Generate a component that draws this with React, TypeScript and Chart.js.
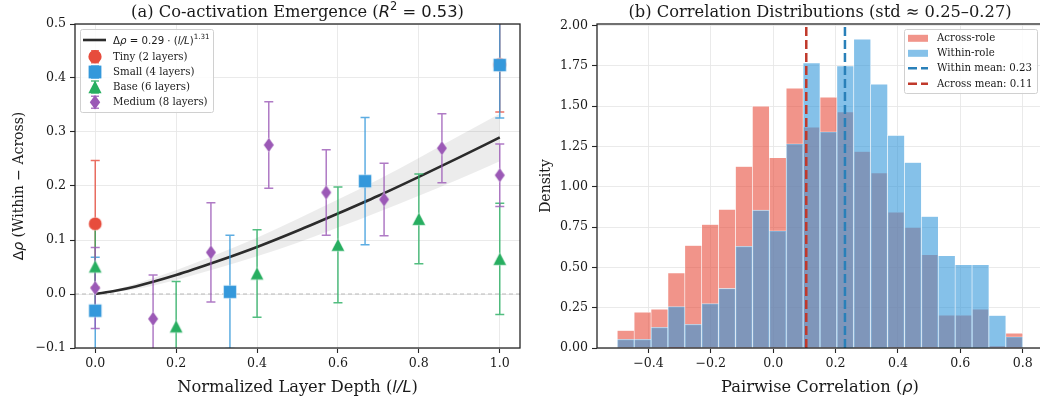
import React, { useEffect, useRef } from 'react';
import { Chart, registerables } from 'chart.js';
Chart.register(...registerables);

const SERIF = '"DejaVu Serif", serif';
const SANS = '"DejaVu Sans", sans-serif';
const INK = '#1a1a1a';

// ---------- Panel (a): co-activation emergence ----------
const tinyX = [0, 1];
const tinyY = [0.13, 0.425];
const tinyErr = [0.117, 0.088];
const smallX = [0, 0.333, 0.667, 1];
const smallY = [-0.031, 0.004, 0.209, 0.424];
const smallErr = [0.099, 0.105, 0.118, 0.098];
const baseX = [0, 0.2, 0.4, 0.6, 0.8, 1];
const baseY = [0.051, -0.06, 0.038, 0.091, 0.139, 0.065];
const baseErr = [0.085, 0.083, 0.081, 0.107, 0.083, 0.103];
const mediumX = [0, 0.143, 0.286, 0.429, 0.571, 0.714, 0.857, 1];
const mediumY = [0.011, -0.046, 0.077, 0.276, 0.188, 0.175, 0.27, 0.22];
const mediumErr = [0.075, 0.081, 0.092, 0.08, 0.079, 0.067, 0.064, 0.058];
const fitX = [0, 0.05, 0.1, 0.2, 0.3, 0.4, 0.5, 0.6, 0.7, 0.8, 0.9, 1.0];
const fitY = [0, 0.006, 0.014, 0.035, 0.06, 0.087, 0.117, 0.149, 0.182, 0.217, 0.253, 0.29];
const fitLo = [0, 0.004, 0.009, 0.026, 0.047, 0.07, 0.095, 0.123, 0.152, 0.182, 0.213, 0.246];
const fitHi = [0, 0.008, 0.019, 0.044, 0.073, 0.104, 0.139, 0.175, 0.212, 0.252, 0.293, 0.334];
const xTicksA = [0, 0.2, 0.4, 0.6, 0.8, 1.0];
const xTickLabelsA = ['0.0', '0.2', '0.4', '0.6', '0.8', '1.0'];
const yTicksA = [-0.1, 0, 0.1, 0.2, 0.3, 0.4, 0.5];
const yTickLabelsA = ['\u22120.1', '0.0', '0.1', '0.2', '0.3', '0.4', '0.5'];
const legendLabelsA = ['Tiny (2 layers)', 'Small (4 layers)', 'Base (6 layers)', 'Medium (8 layers)'];

// ---------- Panel (b): correlation distributions ----------
const binEdges = [
  -0.5, -0.4458, -0.3917, -0.3375, -0.2833, -0.2292, -0.175, -0.1208, -0.0667, -0.0125,
  0.0417, 0.0958, 0.15, 0.2042, 0.2583, 0.3125, 0.3667, 0.4208, 0.475, 0.5292,
  0.5833, 0.6375, 0.6917, 0.7458, 0.8,
];
const acrossDensity = [
  0.108, 0.222, 0.241, 0.465, 0.636, 0.766, 0.86, 1.126, 1.5, 1.18, 1.612, 1.369,
  1.556, 1.464, 1.219, 1.086, 0.843, 0.748, 0.578, 0.204, 0.204, 0.241, 0.012, 0.091,
];
const withinDensity = [
  0.054, 0.054, 0.129, 0.257, 0.147, 0.276, 0.37, 0.631, 0.855, 0.727, 1.267, 1.768,
  1.341, 1.749, 1.915, 1.637, 1.319, 1.151, 0.816, 0.573, 0.517, 0.517, 0.201, 0.07,
];
const withinMean = 0.23;
const acrossMean = 0.106;
const meanLabels = ['Within mean: 0.23', 'Across mean: 0.11'];
const xTicksB = [-0.4, -0.2, 0, 0.2, 0.4, 0.6, 0.8];
const xTickLabelsB = ['\u22120.4', '\u22120.2', '0.0', '0.2', '0.4', '0.6', '0.8'];
const yTicksB = [0, 0.25, 0.5, 0.75, 1.0, 1.25, 1.5, 1.75, 2.0];
const yTickLabelsB = ['0.00', '0.25', '0.50', '0.75', '1.00', '1.25', '1.50', '1.75', '2.00'];

const C_TINY = '#e74c3c';
const C_SMALL = '#3498db';
const C_BASE = '#27ae60';
const C_MED = '#9b59b6';

const TITLE_FONT = 16.3;
const XLABEL_FONT = 16.3;
const YLABEL_FONT = 14;
const TICK_FONT = 12.6;
const LEGEND_FONT = 10.2;

type Seg = { t: string; f: string; dy?: number };

function richWidth(ctx: CanvasRenderingContext2D, segs: Seg[]) {
  let w = 0;
  for (const s of segs) { ctx.font = s.f; w += ctx.measureText(s.t).width; }
  return w;
}

function drawRich(ctx: CanvasRenderingContext2D, segs: Seg[], x: number, y: number, align: string, rot = 0) {
  ctx.save();
  ctx.translate(x, y);
  if (rot) ctx.rotate(rot);
  const w = richWidth(ctx, segs);
  let cx = align === 'center' ? -w / 2 : 0;
  ctx.textAlign = 'left';
  ctx.textBaseline = 'alphabetic';
  ctx.fillStyle = INK;
  for (const s of segs) {
    ctx.font = s.f;
    ctx.fillText(s.t, cx, s.dy || 0);
    cx += ctx.measureText(s.t).width;
  }
  ctx.restore();
}

function markerPath(g: CanvasRenderingContext2D, kind: string, x: number, y: number) {
  g.beginPath();
  if (kind === 'circle') g.arc(x, y, 6.6, 0, Math.PI * 2);
  else if (kind === 'square') g.rect(x - 6.4, y - 6.4, 12.8, 12.8);
  else if (kind === 'triangle') { g.moveTo(x, y - 6.4); g.lineTo(x + 6.6, y + 6.2); g.lineTo(x - 6.6, y + 6.2); g.closePath(); }
  else { g.moveTo(x, y - 7.2); g.lineTo(x + 5.2, y); g.lineTo(x, y + 7.2); g.lineTo(x - 5.2, y); g.closePath(); }
}

function makeMarker(kind: string, color: string): HTMLCanvasElement {
  const c = document.createElement('canvas');
  c.width = 18; c.height = 18;
  const g = c.getContext('2d')!;
  markerPath(g, kind, 9, 9);
  g.fillStyle = color;
  g.fill();
  g.strokeStyle = 'rgba(255,255,255,0.45)';
  g.lineWidth = 0.8;
  g.stroke();
  return c;
}

function withAlpha(hex: string, a: number) {
  const n = parseInt(hex.slice(1), 16);
  return `rgba(${(n >> 16) & 255},${(n >> 8) & 255},${n & 255},${a})`;
}

function axisOpts(ticks: number[], labels: string[], min: number, max: number, size: number, isX: boolean) {
  return {
    type: 'linear',
    min,
    max,
    offset: false,
    afterBuildTicks: (s: any) => { s.ticks = ticks.map((v) => ({ value: v })); },
    afterFit: (s: any) => { if (isX) s.height = size; else s.width = size; },
    grid: { color: '#e8e8e8', lineWidth: 0.9, offset: false, drawTicks: true, tickLength: 5, tickColor: '#262626', tickWidth: 1.1 },
    border: { display: false },
    ticks: {
      font: { family: SERIF, size: TICK_FONT },
      color: INK,
      padding: isX ? 3 : 4,
      maxRotation: 0,
      autoSkip: false,
      callback: (_v: any, i: number) => labels[i],
    },
  };
}

function drawFrame(chart: any) {
  const { ctx, chartArea: a } = chart;
  ctx.save();
  ctx.strokeStyle = '#262626';
  ctx.lineWidth = 1.3;
  ctx.strokeRect(a.left, a.top, a.right - a.left, a.bottom - a.top);
  ctx.restore();
}

function legendFrame(ctx: CanvasRenderingContext2D, x: number, y: number, w: number, h: number) {
  ctx.save();
  ctx.beginPath();
  (ctx as any).roundRect ? (ctx as any).roundRect(x, y, w, h, 2) : ctx.rect(x, y, w, h);
  ctx.fillStyle = 'rgba(255,255,255,0.85)';
  ctx.fill();
  ctx.strokeStyle = '#d0d0d0';
  ctx.lineWidth = 1;
  ctx.stroke();
  ctx.restore();
}

// error bars of every series are drawn just before the first marker series,
// so that all markers sit above all error bars
const errorBarPlugin = {
  id: 'errorBars',
  beforeDatasetDraw(chart: any, args: any) {
    const first = chart.data.datasets[args.index];
    if (!first.drawErrors) return;
    const { ctx, chartArea: a } = chart;
    const ys = chart.scales.y;
    ctx.save();
    ctx.beginPath();
    ctx.rect(a.left, a.top, a.right - a.left, a.bottom - a.top);
    ctx.clip();
    ctx.lineWidth = 1.5;
    const idx = chart.data.datasets.map((_d: any, i: number) => i)
      .filter((i: number) => chart.data.datasets[i].errors)
      .sort((p: number, q: number) => chart.data.datasets[q].order - chart.data.datasets[p].order);
    idx.forEach((di: number) => {
      const ds = chart.data.datasets[di];
      const meta = chart.getDatasetMeta(di);
      ctx.strokeStyle = ds.errColor;
      meta.data.forEach((pt: any, i: number) => {
        const v = ds.data[i].y;
        const e = ds.errors[i];
        const x = pt.x;
        const y1 = ys.getPixelForValue(v - e);
        const y2 = ys.getPixelForValue(v + e);
        ctx.beginPath();
        ctx.moveTo(x, y1); ctx.lineTo(x, y2);
        ctx.moveTo(x - 4.5, y1); ctx.lineTo(x + 4.5, y1);
        ctx.moveTo(x - 4.5, y2); ctx.lineTo(x + 4.5, y2);
        ctx.stroke();
      });
    });
    ctx.restore();
  },
};

const pts = (xs: number[], ys: number[]) => xs.map((x, i) => ({ x, y: ys[i] }));

function configA(): any {
  const series = [
    { label: legendLabelsA[3], x: mediumX, y: mediumY, err: mediumErr, color: C_MED, kind: 'diamond', order: 1 },
    { label: legendLabelsA[2], x: baseX, y: baseY, err: baseErr, color: C_BASE, kind: 'triangle', order: 2 },
    { label: legendLabelsA[1], x: smallX, y: smallY, err: smallErr, color: C_SMALL, kind: 'square', order: 3 },
    { label: legendLabelsA[0], x: tinyX, y: tinyY, err: tinyErr, color: C_TINY, kind: 'circle', order: 4 },
  ];
  const datasets: any[] = series.map((s) => ({
    type: 'scatter',
    label: s.label,
    data: pts(s.x, s.y),
    errors: s.err,
    drawErrors: s.order === 4,
    errColor: withAlpha(s.color, 0.8),
    pointStyle: makeMarker(s.kind, s.color),
    pointRadius: 6,
    showLine: false,
    order: s.order,
  }));
  datasets.push(
    { type: 'line', label: 'fit', data: pts(fitX, fitY), borderColor: '#2b2b2b', borderWidth: 2.6, pointRadius: 0, cubicInterpolationMode: 'monotone', fill: false, order: 5 },
    { type: 'line', label: 'lo', data: pts(fitX, fitLo), borderWidth: 0, borderColor: 'rgba(0,0,0,0)', pointRadius: 0, cubicInterpolationMode: 'monotone', fill: false, order: 7 },
    { type: 'line', label: 'hi', data: pts(fitX, fitHi), borderWidth: 0, borderColor: 'rgba(0,0,0,0)', pointRadius: 0, cubicInterpolationMode: 'monotone', fill: '-1', backgroundColor: 'rgba(128,128,128,0.15)', order: 6 },
    { type: 'line', label: 'zero', data: [{ x: -0.05, y: 0 }, { x: 1.05, y: 0 }], borderColor: '#b8b8b8', borderWidth: 1, borderDash: [4, 3], pointRadius: 0, fill: false, order: 8 },
  );
  const deco = {
    id: 'decoA',
    afterDraw(chart: any) {
      const { ctx, chartArea: a } = chart;
      drawFrame(chart);
      const cx = (a.left + a.right) / 2;
      const cy = (a.top + a.bottom) / 2;
      drawRich(ctx, [
        { t: '(a) Co-activation Emergence (', f: `${TITLE_FONT}px ${SERIF}` },
        { t: 'R', f: `italic ${TITLE_FONT}px ${SANS}` },
        { t: '2', f: `${TITLE_FONT * 0.7}px ${SANS}`, dy: -7 },
        { t: ' = 0.53', f: `${TITLE_FONT}px ${SANS}` },
        { t: ')', f: `${TITLE_FONT}px ${SERIF}` },
      ], cx, 17, 'center');
      drawRich(ctx, [
        { t: 'Normalized Layer Depth (', f: `${XLABEL_FONT}px ${SERIF}` },
        { t: 'l/L', f: `italic ${XLABEL_FONT}px ${SANS}` },
        { t: ')', f: `${XLABEL_FONT}px ${SERIF}` },
      ], cx, 392, 'center');
      drawRich(ctx, [
        { t: '\u0394', f: `${YLABEL_FONT}px ${SANS}` },
        { t: '\u03c1', f: `italic ${YLABEL_FONT}px ${SANS}` },
        { t: ' (Within ', f: `${YLABEL_FONT}px ${SERIF}` },
        { t: '\u2212', f: `${YLABEL_FONT}px ${SANS}` },
        { t: ' Across)', f: `${YLABEL_FONT}px ${SERIF}` },
      ], 23, cy, 'center', -Math.PI / 2);
      // legend
      legendFrame(ctx, 80.5, 29.5, 133, 83);
      ctx.save();
      ctx.strokeStyle = '#2b2b2b';
      ctx.lineWidth = 2.6;
      ctx.beginPath(); ctx.moveTo(83, 40); ctx.lineTo(106, 40); ctx.stroke();
      ctx.restore();
      drawRich(ctx, [
        { t: '\u0394', f: `${LEGEND_FONT}px ${SANS}` },
        { t: '\u03c1', f: `italic ${LEGEND_FONT}px ${SANS}` },
        { t: ' = 0.29 \u00b7 (', f: `${LEGEND_FONT}px ${SANS}` },
        { t: 'l/L', f: `italic ${LEGEND_FONT}px ${SANS}` },
        { t: ')', f: `${LEGEND_FONT}px ${SANS}` },
        { t: '1.31', f: `${LEGEND_FONT * 0.7}px ${SANS}`, dy: -5 },
      ], 113, 44, 'left');
      const rows = [56.7, 72, 87, 102.3];
      const items = [
        { kind: 'circle', color: C_TINY },
        { kind: 'square', color: C_SMALL },
        { kind: 'triangle', color: C_BASE },
        { kind: 'diamond', color: C_MED },
      ];
      items.forEach((it, i) => {
        const y = rows[i];
        ctx.save();
        ctx.strokeStyle = withAlpha(it.color, 0.8);
        ctx.lineWidth = 1.5;
        ctx.beginPath();
        ctx.moveTo(95, y - 6); ctx.lineTo(95, y + 6);
        ctx.moveTo(91, y - 6); ctx.lineTo(99, y - 6);
        ctx.moveTo(91, y + 6); ctx.lineTo(99, y + 6);
        ctx.stroke();
        markerPath(ctx, it.kind, 95, y);
        ctx.fillStyle = it.color;
        ctx.fill();
        ctx.restore();
        ctx.save();
        ctx.font = `${LEGEND_FONT}px ${SERIF}`;
        ctx.fillStyle = INK;
        ctx.textBaseline = 'middle';
        ctx.fillText(legendLabelsA[i], 113, y + 0.5);
        ctx.restore();
      });
    },
  };
  return {
    type: 'scatter',
    data: { datasets },
    options: {
      responsive: false,
      devicePixelRatio: 1,
      animation: false,
      events: [],
      layout: { padding: { left: 0, right: 10, top: 24, bottom: 0 } },
      plugins: { legend: { display: false }, tooltip: { enabled: false }, title: { display: false } },
      scales: {
        x: axisOpts(xTicksA, xTickLabelsA, -0.05, 1.05, 50, true),
        y: axisOpts(yTicksA, yTickLabelsA, -0.1, 0.5, 75, false),
      },
    },
    plugins: [errorBarPlugin, deco],
  };
}

function configB(): any {
  const centers = binEdges.slice(0, -1).map((e, i) => (e + binEdges[i + 1]) / 2);
  const barBase = {
    type: 'bar',
    grouped: false,
    barPercentage: 1,
    categoryPercentage: 1,
    borderColor: 'rgba(255,255,255,0.75)',
    borderWidth: { left: 0.6, right: 0.6, top: 0.6, bottom: 0 },
    borderSkipped: false,
  };
  const datasets: any[] = [
    { ...barBase, label: 'Across-role', data: centers.map((x, i) => ({ x, y: acrossDensity[i] })), backgroundColor: 'rgba(231,76,60,0.6)', order: 3 },
    { ...barBase, label: 'Within-role', data: centers.map((x, i) => ({ x, y: withinDensity[i] })), backgroundColor: 'rgba(52,152,219,0.6)', order: 2 },
    { type: 'line', label: meanLabels[0], data: [{ x: withinMean, y: 0 }, { x: withinMean, y: 2.01 }], borderColor: '#2980b9', borderWidth: 2.5, borderDash: [9, 4], pointRadius: 0, fill: false, order: 1 },
    { type: 'line', label: meanLabels[1], data: [{ x: acrossMean, y: 0 }, { x: acrossMean, y: 2.01 }], borderColor: '#c0392b', borderWidth: 2.5, borderDash: [9, 4], pointRadius: 0, fill: false, order: 0 },
  ];
  const deco = {
    id: 'decoB',
    afterDraw(chart: any) {
      const { ctx, chartArea: a } = chart;
      drawFrame(chart);
      const cx = (a.left + a.right) / 2;
      const cy = (a.top + a.bottom) / 2;
      drawRich(ctx, [{ t: '(b) Correlation Distributions (std \u2248 0.25\u20130.27)', f: `${TITLE_FONT}px ${SERIF}` }], cx, 17, 'center');
      drawRich(ctx, [
        { t: 'Pairwise Correlation (', f: `${XLABEL_FONT}px ${SERIF}` },
        { t: '\u03c1', f: `italic ${XLABEL_FONT}px ${SANS}` },
        { t: ')', f: `${XLABEL_FONT}px ${SERIF}` },
      ], cx, 392, 'center');
      drawRich(ctx, [{ t: 'Density', f: `${YLABEL_FONT}px ${SERIF}` }], 20, cy, 'center', -Math.PI / 2);
      // legend
      const L = 904 - 530;
      legendFrame(ctx, L + 0.5, 29.5, 133, 64);
      const rows = [38.3, 53.3, 68.3, 83.7];
      const hx = 908 - 530;
      ctx.save();
      ctx.fillStyle = 'rgba(231,76,60,0.6)';
      ctx.fillRect(hx, rows[0] - 3.5, 20, 7);
      ctx.fillStyle = 'rgba(52,152,219,0.6)';
      ctx.fillRect(hx, rows[1] - 3.5, 20, 7);
      ctx.lineWidth = 2.5;
      ctx.setLineDash([9, 4]);
      ctx.strokeStyle = '#2980b9';
      ctx.beginPath(); ctx.moveTo(hx, rows[2]); ctx.lineTo(hx + 20, rows[2]); ctx.stroke();
      ctx.strokeStyle = '#c0392b';
      ctx.beginPath(); ctx.moveTo(hx, rows[3]); ctx.lineTo(hx + 20, rows[3]); ctx.stroke();
      ctx.restore();
      const texts = ['Across-role', 'Within-role', meanLabels[0], meanLabels[1]];
      ctx.save();
      ctx.font = `${LEGEND_FONT}px ${SERIF}`;
      ctx.fillStyle = INK;
      ctx.textBaseline = 'middle';
      texts.forEach((t, i) => ctx.fillText(t, 937 - 530, rows[i] + 0.5));
      ctx.restore();
    },
  };
  return {
    type: 'bar',
    data: { datasets },
    options: {
      responsive: false,
      devicePixelRatio: 1,
      animation: false,
      events: [],
      layout: { padding: { left: 0, right: 5, top: 24, bottom: 0 } },
      plugins: { legend: { display: false }, tooltip: { enabled: false }, title: { display: false } },
      scales: {
        x: axisOpts(xTicksB, xTickLabelsB, -0.565, 0.865, 50, true),
        y: axisOpts(yTicksB, yTickLabelsB, 0, 2.01, 67, false),
      },
    },
    plugins: [deco],
  };
}

export default function App() {
  const refA = useRef<HTMLCanvasElement>(null);
  const refB = useRef<HTMLCanvasElement>(null);
  useEffect(() => {
    const a = new Chart(refA.current as HTMLCanvasElement, configA());
    const b = new Chart(refB.current as HTMLCanvasElement, configB());
    return () => { a.destroy(); b.destroy(); };
  }, []);
  return (
    <div style={{ position: 'fixed', left: 0, top: 0, width: 1040, height: 398, overflow: 'hidden', background: '#fff' }}>
      <canvas ref={refA} width={530} height={398} style={{ position: 'absolute', left: 0, top: 0 }} />
      <canvas ref={refB} width={518} height={398} style={{ position: 'absolute', left: 530, top: 0 }} />
    </div>
  );
}
